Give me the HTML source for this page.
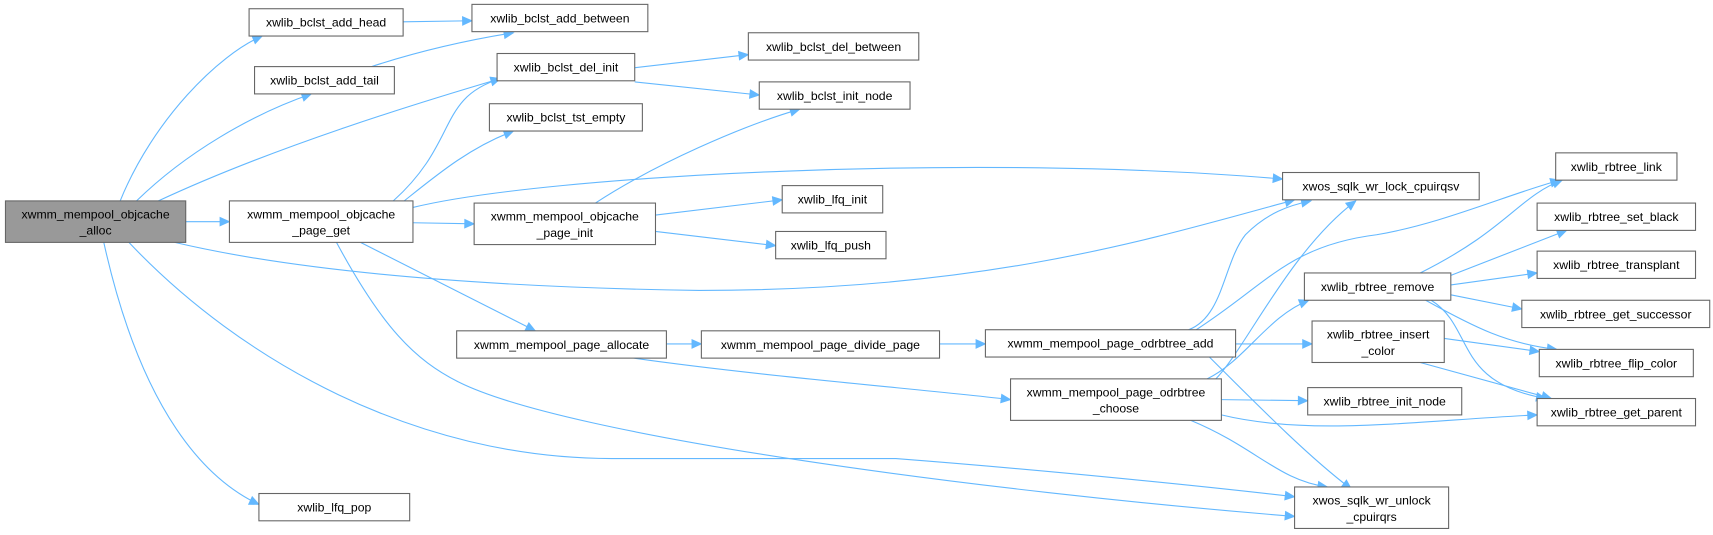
<!DOCTYPE html>
<html><head><meta charset="utf-8"><style>
html,body{margin:0;padding:0;background:#fff;width:1713px;height:535px;overflow:hidden}
svg{display:block}
text{font-family:"Liberation Sans",sans-serif;font-size:11.2px;fill:#000}
.n{fill:#fff;stroke:#666;stroke-width:1}
.e{fill:none;stroke:#63b8ff;stroke-width:1}
</style></head><body>
<svg width="1713" height="535" viewBox="0 0 1568 490" preserveAspectRatio="none">
<defs><marker id="a" viewBox="0 0 10 10" refX="9" refY="5" markerWidth="11" markerHeight="10" markerUnits="userSpaceOnUse" orient="auto"><path d="M0,0.5 L10,5 L0,9.5 z" fill="#63b8ff"/></marker></defs>
<g class="e" marker-end="url(#a)">
<path d="M110,184 C140,110 200,50 240,33"/>
<path d="M125,184 C170,140 230,105 285,86"/>
<path d="M145,184 C250,135 380,95 458,72"/>
<path d="M170,203 L210,203"/>
<path d="M160,222 C300,255 500,264 640,266 C900,266 1050,220 1185,183"/>
<path d="M118,222 C220,330 380,420 560,420 L820,420 C950,430 1100,445 1185,455"/>
<path d="M95,222 C130,380 190,440 237,462"/>
<path d="M360,184 C420,130 400,90 458,72"/>
<path d="M370,184 C400,160 430,135 470,120"/>
<path d="M378,190 C500,160 900,140 1174,164"/>
<path d="M378,204 L434,205"/>
<path d="M330,222 L490,303"/>
<path d="M308,222 C350,300 380,330 420,350 C520,400 900,450 1185,473"/>
<path d="M369,20 L432,19"/>
<path d="M340,61 C380,48 420,38 470,30"/>
<path d="M581,62 L685,50"/>
<path d="M581,75 L695,87"/>
<path d="M545,186 C600,150 680,115 732,100"/>
<path d="M600,197 L716,183"/>
<path d="M600,212 L710,225"/>
<path d="M610,315 L642,315"/>
<path d="M580,328 C700,345 850,357 925,366"/>
<path d="M860,315 L902,315"/>
<path d="M1131,315 L1201,315"/>
<path d="M1088,302 C1120,290 1120,240 1140,215 C1160,195 1180,188 1200,184"/>
<path d="M1095,302 C1160,260 1180,225 1260,215 C1320,205 1380,178 1428,165"/>
<path d="M1107,327 C1160,380 1200,420 1237,448"/>
<path d="M1112,348 C1140,320 1180,230 1241,184"/>
<path d="M1105,347 C1140,330 1160,290 1198,275"/>
<path d="M1118,366 L1197,367"/>
<path d="M1118,380 C1200,400 1300,385 1407,380"/>
<path d="M1090,385 C1150,410 1170,440 1215,446"/>
<path d="M1326,253 L1434,211"/>
<path d="M1328,261 L1407,250"/>
<path d="M1328,270 L1393,283"/>
<path d="M1300,250 C1380,210 1390,180 1430,165"/>
<path d="M1305,275 C1350,300 1380,315 1425,320"/>
<path d="M1310,275 C1350,300 1330,350 1415,365"/>
<path d="M1322,310 L1409,322"/>
<path d="M1300,332 L1420,365"/>
</g>
<rect x="5" y="184" width="165" height="38" fill="#999" stroke="#666"/>
<text x="87.5" y="200" text-anchor="middle">xwmm_mempool_objcache</text><text x="87.5" y="215" text-anchor="middle">_alloc</text>
<g>
<rect class="n" x="210" y="184" width="168" height="38"/><text x="294" y="200" text-anchor="middle">xwmm_mempool_objcache</text><text x="294" y="215" text-anchor="middle">_page_get</text>
<rect class="n" x="434" y="186" width="166" height="38"/><text x="517" y="202" text-anchor="middle">xwmm_mempool_objcache</text><text x="517" y="217" text-anchor="middle">_page_init</text>
<rect class="n" x="228" y="8" width="141" height="25"/><text x="298.5" y="24.5" text-anchor="middle">xwlib_bclst_add_head</text>
<rect class="n" x="233" y="61" width="128" height="25"/><text x="297" y="77.5" text-anchor="middle">xwlib_bclst_add_tail</text>
<rect class="n" x="432" y="4" width="161" height="25"/><text x="512.5" y="20.5" text-anchor="middle">xwlib_bclst_add_between</text>
<rect class="n" x="455" y="49" width="126" height="25"/><text x="518" y="65.5" text-anchor="middle">xwlib_bclst_del_init</text>
<rect class="n" x="448" y="95" width="140" height="25"/><text x="518" y="111.5" text-anchor="middle">xwlib_bclst_tst_empty</text>
<rect class="n" x="685" y="30" width="156" height="25"/><text x="763" y="46.5" text-anchor="middle">xwlib_bclst_del_between</text>
<rect class="n" x="695" y="75" width="138" height="25"/><text x="764" y="91.5" text-anchor="middle">xwlib_bclst_init_node</text>
<rect class="n" x="716" y="170" width="92" height="25"/><text x="762" y="186.5" text-anchor="middle">xwlib_lfq_init</text>
<rect class="n" x="710" y="212" width="101" height="25"/><text x="760.5" y="228.5" text-anchor="middle">xwlib_lfq_push</text>
<rect class="n" x="1174" y="158" width="180" height="25"/><text x="1264" y="174.5" text-anchor="middle">xwos_sqlk_wr_lock_cpuirqsv</text>
<rect class="n" x="418" y="303" width="192" height="25"/><text x="514" y="319.5" text-anchor="middle">xwmm_mempool_page_allocate</text>
<rect class="n" x="642" y="303" width="218" height="25"/><text x="751" y="319.5" text-anchor="middle">xwmm_mempool_page_divide_page</text>
<rect class="n" x="902" y="302" width="229" height="25"/><text x="1016.5" y="318.5" text-anchor="middle">xwmm_mempool_page_odrbtree_add</text>
<rect class="n" x="925" y="347" width="193" height="38"/><text x="1021.5" y="363" text-anchor="middle">xwmm_mempool_page_odrbtree</text><text x="1021.5" y="378" text-anchor="middle">_choose</text>
<rect class="n" x="1194" y="250" width="134" height="25"/><text x="1261" y="266.5" text-anchor="middle">xwlib_rbtree_remove</text>
<rect class="n" x="1201" y="294" width="121" height="38"/><text x="1261.5" y="310" text-anchor="middle">xwlib_rbtree_insert</text><text x="1261.5" y="325" text-anchor="middle">_color</text>
<rect class="n" x="1197" y="355" width="141" height="25"/><text x="1267.5" y="371.5" text-anchor="middle">xwlib_rbtree_init_node</text>
<rect class="n" x="1185" y="446" width="141" height="38"/><text x="1255.5" y="462" text-anchor="middle">xwos_sqlk_wr_unlock</text><text x="1255.5" y="477" text-anchor="middle">_cpuirqrs</text>
<rect class="n" x="237" y="452" width="138" height="25"/><text x="306" y="468.5" text-anchor="middle">xwlib_lfq_pop</text>
<rect class="n" x="1424" y="140" width="111" height="25"/><text x="1479.5" y="156.5" text-anchor="middle">xwlib_rbtree_link</text>
<rect class="n" x="1407" y="186" width="145" height="25"/><text x="1479.5" y="202.5" text-anchor="middle">xwlib_rbtree_set_black</text>
<rect class="n" x="1407" y="230" width="145" height="25"/><text x="1479.5" y="246.5" text-anchor="middle">xwlib_rbtree_transplant</text>
<rect class="n" x="1393" y="275" width="172" height="25"/><text x="1479" y="291.5" text-anchor="middle">xwlib_rbtree_get_successor</text>
<rect class="n" x="1409" y="320" width="141" height="25"/><text x="1479.5" y="336.5" text-anchor="middle">xwlib_rbtree_flip_color</text>
<rect class="n" x="1407" y="365" width="145" height="25"/><text x="1479.5" y="381.5" text-anchor="middle">xwlib_rbtree_get_parent</text>
</g>
</svg>
</body></html>
